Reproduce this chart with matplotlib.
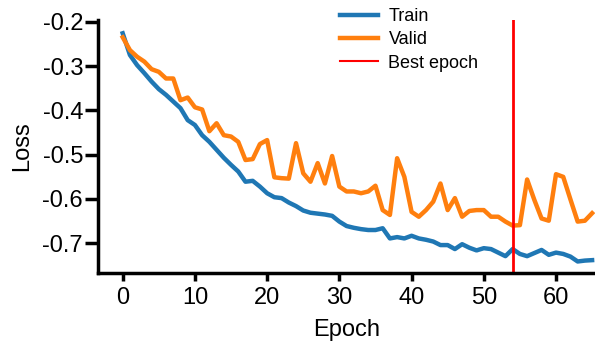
import numpy as np
import matplotlib
matplotlib.use("Agg")
import matplotlib.pyplot as plt
from matplotlib.lines import Line2D

plt.rcParams['font.family'] = ['Liberation Sans', 'DejaVu Sans']

# значения потерь по эпохам
train_loss = [
    -0.226, -0.275, -0.298, -0.316, -0.335, -0.352, -0.365, -0.380, -0.395, -0.422,
    -0.433, -0.456, -0.471, -0.489, -0.507, -0.523, -0.538, -0.561, -0.559, -0.572,
    -0.587, -0.596, -0.598, -0.608, -0.616, -0.626, -0.631, -0.633, -0.635, -0.638,
    -0.651, -0.661, -0.665, -0.668, -0.670, -0.670, -0.666, -0.689, -0.686, -0.689,
    -0.683, -0.689, -0.692, -0.696, -0.704, -0.704, -0.713, -0.702, -0.710, -0.716,
    -0.711, -0.713, -0.721, -0.729, -0.713, -0.724, -0.729, -0.722, -0.715, -0.726,
    -0.721, -0.724, -0.730, -0.741, -0.739, -0.738,
]
valid_loss = [
    -0.235, -0.264, -0.279, -0.290, -0.307, -0.313, -0.328, -0.328, -0.377, -0.371,
    -0.393, -0.398, -0.447, -0.429, -0.456, -0.459, -0.471, -0.512, -0.510, -0.476,
    -0.467, -0.551, -0.553, -0.554, -0.474, -0.542, -0.561, -0.519, -0.565, -0.503,
    -0.572, -0.583, -0.583, -0.587, -0.583, -0.570, -0.625, -0.636, -0.508, -0.550,
    -0.629, -0.640, -0.625, -0.606, -0.565, -0.625, -0.598, -0.640, -0.627, -0.625,
    -0.625, -0.640, -0.640, -0.651, -0.660, -0.659, -0.556, -0.602, -0.644, -0.649,
    -0.544, -0.550, -0.601, -0.651, -0.649, -0.632,
]
epochs = np.arange(len(train_loss))
best_epoch = int(np.argmin(valid_loss))

fig = plt.figure(figsize=(5.95, 3.43), dpi=100)
ax = fig.add_axes([0.1652, 0.2041, 0.8348, 0.7376])

ax.plot(epochs, train_loss, color='#1f77b4', lw=3.2)
ax.plot(epochs, valid_loss, color='#ff7f0e', lw=3.2)
ax.axvline(best_epoch, color='red', lw=2)

ax.set_xlim(-3.38, 65.4)
ax.set_ylim(-0.767, -0.196)
ax.set_xticks(np.arange(0, 61, 10))
ax.set_yticks([-0.2, -0.3, -0.4, -0.5, -0.6, -0.7])
ax.set_yticklabels(['-0.2', '-0.3', '-0.4', '-0.5', '-0.6', '-0.7'])

for side in ['top', 'right']:
    ax.spines[side].set_visible(False)
for side in ['left', 'bottom']:
    ax.spines[side].set_linewidth(2.5)
ax.tick_params(axis='both', labelsize=17, width=2.5)
ax.tick_params(axis='x', length=6, pad=4)
ax.tick_params(axis='y', length=9.5, pad=1.5)

ax.set_xlabel('Epoch', fontsize=17, labelpad=7)
ax.set_ylabel('Loss', fontsize=17, labelpad=7)

# легенда без рамки над графиком
handles = [
    Line2D([], [], color='#1f77b4', lw=3.2),
    Line2D([], [], color='#ff7f0e', lw=3.2),
    Line2D([], [], color='red', lw=1.5),
]
ax.legend(handles, ['Train', 'Valid', 'Best epoch'], loc='upper left',
          bbox_to_anchor=(0.571, 0.977), bbox_transform=fig.transFigure,
          frameon=False, fontsize=13, borderpad=0, borderaxespad=0,
          handlelength=2.1, handletextpad=0.6, labelspacing=0.35)

fig.savefig('out.png', dpi=100)
